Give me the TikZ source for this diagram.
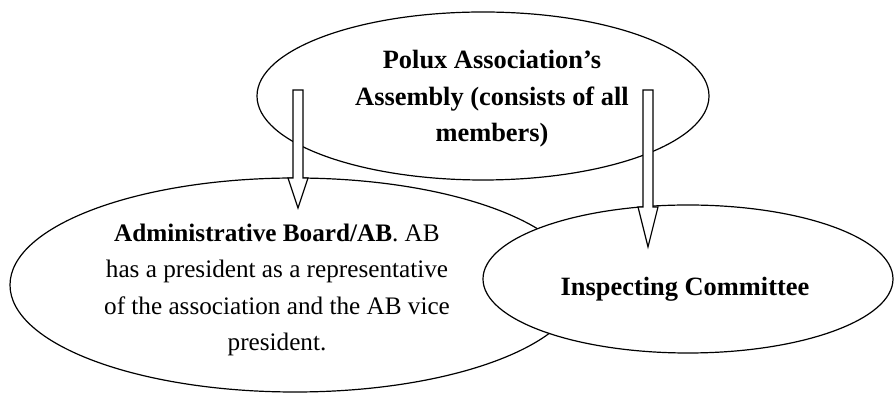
\documentclass[tikz,border=0pt]{standalone}
\usepackage{fontspec}
\setmainfont{Liberation Serif}
\usetikzlibrary{calc, shapes.geometric}
% hollow block arrow from (#1) down to the tip (#2), head length #3
\newcommand{\blockarrow}[3]{%
  \draw[blockarr] let \p1=(#1), \p2=(#2) in
    (\x1-2.5pt,\y1) -- (\x1+2.5pt,\y1) -- (\x1+2.5pt,\y2+#3) -- (\x1+5pt,\y2+#3)
    -- (\x2,\y2) -- (\x1-5pt,\y2+#3) -- (\x1-2.5pt,\y2+#3) -- cycle;}

\begin{document}
\begin{tikzpicture}[x=0.5pt, y=-0.5pt,
  bubble/.style={draw, ellipse, fill=white, line width=0.6pt, inner sep=0pt},
  bubbletext/.style={align=center, inner sep=0pt, font=\fontsize{13.2}{18.3}\selectfont},
  blockarr/.style={draw, fill=white, line width=0.6pt, line join=miter}]
\useasboundingbox (0,0) rectangle (895,394);
\node[bubble, minimum width=226pt, minimum height=84pt,
  label={[name=assemblytext, bubbletext, xshift=4.5pt, yshift=-1.5pt]center:{\bfseries Polux Association’s\\\bfseries Assembly (consists of all\\\bfseries members)}}]
  (assembly) at (483,96) {};
\node[bubble, minimum width=285pt, minimum height=107pt,
  label={[name=boardtext, bubbletext, font=\fontsize{12.6}{18.3}\selectfont, xshift=-9pt, yshift=-2.5pt]center:{\textbf{Administrative Board/AB}. AB\\has a president as a representative\\of the association and the AB vice\\president.}}]
  (board) at (295,285) {};
\node[bubble, minimum width=205pt, minimum height=74pt,
  label={[name=committeetext, bubbletext, xshift=-1.5pt, yshift=-5pt]center:{\bfseries Inspecting Committee}}]
  (committee) at (688,279) {};
\coordinate (boardtop) at (298,90);
\coordinate (boardtip) at (298,208);
\coordinate (comtop) at (648,90);
\coordinate (comtip) at (648,247);
\blockarrow{boardtop}{boardtip}{15pt}
\blockarrow{comtop}{comtip}{20pt}
\end{tikzpicture}
\end{document}
